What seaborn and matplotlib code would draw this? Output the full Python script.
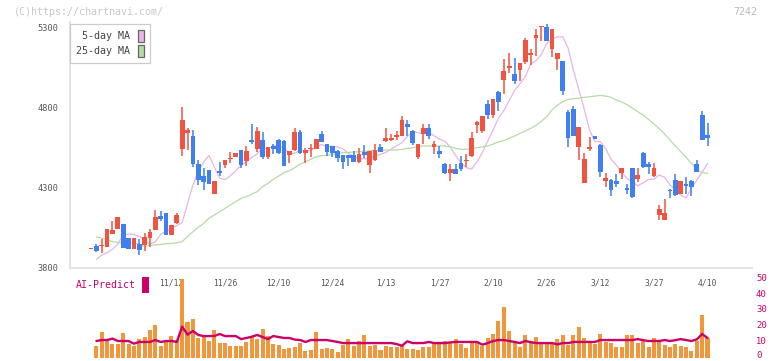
import numpy as np
import pandas as pd
import matplotlib
matplotlib.use("Agg")
import matplotlib.pyplot as plt
from matplotlib.patches import Patch, Rectangle
import seaborn as sns

# daily candles (c0 .. c115)
opens = [3915, 3936, 3934, 3932, 4011, 4042, 4073, 3986, 3919, 3948,
         3944, 3986, 4036, 4123, 4142, 4004, 4079, 4542, 4642, 4623,
         4448, 4373, 4411, 4261, 4404, 4442, 4477, 4492, 4536, 4467,
         4598, 4542, 4598, 4492, 4561, 4598, 4592, 4504, 4536, 4648,
         4517, 4540, 4542, 4636, 4573, 4561, 4529, 4504, 4504, 4504,
         4461, 4523, 4442, 4473, 4554, 4592, 4598, 4617, 4623, 4698,
         4654, 4492, 4636, 4673, 4554, 4529, 4448, 4392, 4417, 4454,
         4467, 4498, 4692, 4654, 4823, 4754, 4898, 4973, 5048, 5011,
         5036, 5086, 5129, 5236, 5304, 5304, 5167, 5104, 5092, 4773,
         4792, 4554, 4329, 4542, 4623, 4567, 4342, 4348, 4342, 4392,
         4292, 4423, 4354, 4517, 4448, 4373, 4129, 4098, 4286, 4348,
         4261, 4323, 4342, 4448, 4754, 4629]
highs = [3915, 3948, 3979, 4042, 4092, 4117, 4073, 3986, 3986, 3979,
         4017, 4042, 4161, 4154, 4142, 4067, 4142, 4805, 4673, 4661,
         4473, 4423, 4411, 4342, 4461, 4473, 4523, 4517, 4536, 4561,
         4698, 4679, 4648, 4554, 4573, 4604, 4598, 4529, 4673, 4661,
         4548, 4573, 4604, 4654, 4573, 4561, 4536, 4504, 4504, 4529,
         4548, 4567, 4529, 4573, 4573, 4673, 4636, 4654, 4748, 4723,
         4661, 4573, 4698, 4698, 4592, 4561, 4454, 4448, 4448, 4498,
         4511, 4648, 4717, 4748, 4848, 4854, 4904, 5104, 5142, 5111,
         5079, 5236, 5167, 5292, 5311, 5323, 5292, 5142, 5092, 4786,
         4811, 4679, 4517, 4617, 4623, 4573, 4392, 4354, 4386, 4423,
         4323, 4423, 4423, 4523, 4461, 4454, 4192, 4229, 4292, 4386,
         4342, 4367, 4348, 4473, 4779, 4704]
lows = [3915, 3898, 3894, 3927, 4011, 4040, 3925, 3919, 3919, 3882,
        3907, 3932, 4036, 4092, 4004, 4004, 4073, 4498, 4536, 4429,
        4317, 4286, 4323, 4261, 4373, 4423, 4454, 4492, 4423, 4436,
        4573, 4523, 4479, 4479, 4511, 4511, 4436, 4454, 4529, 4511,
        4454, 4492, 4542, 4586, 4498, 4492, 4461, 4417, 4436, 4461,
        4454, 4486, 4392, 4467, 4523, 4586, 4592, 4598, 4623, 4623,
        4567, 4479, 4573, 4604, 4511, 4486, 4386, 4342, 4386, 4404,
        4429, 4492, 4642, 4642, 4729, 4736, 4779, 4886, 5017, 4948,
        4967, 5073, 5067, 5123, 5217, 5217, 5117, 5036, 4879, 4554,
        4623, 4473, 4329, 4529, 4604, 4367, 4304, 4248, 4304, 4354,
        4261, 4236, 4336, 4423, 4386, 4367, 4098, 4098, 4236, 4248,
        4261, 4261, 4248, 4398, 4598, 4561]
closes = [3915, 3904, 3938, 4042, 4036, 4117, 3925, 3919, 3986, 3913,
          3992, 4023, 4117, 4104, 4004, 4067, 4129, 4723, 4661, 4448,
          4348, 4336, 4323, 4342, 4392, 4473, 4481, 4517, 4442, 4529,
          4586, 4654, 4492, 4554, 4542, 4517, 4436, 4529, 4648, 4517,
          4536, 4544, 4604, 4586, 4523, 4517, 4486, 4461, 4486, 4461,
          4511, 4504, 4529, 4536, 4523, 4611, 4611, 4629, 4723, 4679,
          4579, 4573, 4673, 4623, 4573, 4511, 4392, 4417, 4386, 4417,
          4475, 4611, 4711, 4748, 4754, 4854, 4836, 5029, 5061, 4967,
          5079, 5223, 5142, 5254, 5309, 5217, 5292, 5142, 4904, 4611,
          4623, 4679, 4479, 4554, 4604, 4398, 4361, 4286, 4323, 4423,
          4288, 4242, 4379, 4429, 4429, 4423, 4167, 4142, 4277, 4254,
          4342, 4311, 4304, 4398, 4598, 4611]

# moving averages as drawn (c1 .. c115)
ma5 = [3852, 3879, 3894, 3915, 3948, 4006, 4010, 4008, 3995, 3970,
       3947, 3962, 4008, 4028, 4045, 4064, 4082, 4200, 4315, 4400,
       4460, 4502, 4430, 4360, 4350, 4375, 4405, 4440, 4462, 4490,
       4512, 4548, 4545, 4562, 4562, 4548, 4510, 4516, 4534, 4529,
       4533, 4555, 4570, 4557, 4559, 4555, 4543, 4515, 4495, 4482,
       4481, 4485, 4498, 4508, 4521, 4541, 4562, 4582, 4619, 4651,
       4644, 4637, 4645, 4625, 4604, 4591, 4554, 4503, 4456, 4425,
       4417, 4461, 4520, 4592, 4660, 4736, 4781, 4844, 4907, 4949,
       4994, 5072, 5094, 5133, 5201, 5229, 5243, 5243, 5173, 5033,
       4914, 4792, 4659, 4589, 4588, 4543, 4479, 4441, 4394, 4358,
       4336, 4312, 4331, 4352, 4353, 4380, 4365, 4318, 4288, 4253,
       4236, 4296, 4348, 4396, 4452]
ma25 = [3992, 3985, 3975, 3963, 3957, 3957, 3957, 3955, 3945, 3932,
        3940, 3942, 3945, 3950, 3952, 3955, 3963, 3994, 4025, 4052,
        4077, 4109, 4129, 4150, 4171, 4192, 4213, 4234, 4244, 4261,
        4275, 4307, 4327, 4352, 4373, 4394, 4406, 4425, 4448, 4463,
        4477, 4494, 4500, 4502, 4506, 4515, 4519, 4521, 4523, 4525,
        4527, 4531, 4534, 4534, 4536, 4536, 4536, 4540, 4546, 4550,
        4556, 4561, 4561, 4561, 4561, 4561, 4556, 4546, 4540, 4540,
        4544, 4550, 4556, 4561, 4573, 4586, 4594, 4609, 4623, 4640,
        4654, 4671, 4690, 4715, 4744, 4786, 4815, 4838, 4852, 4857,
        4859, 4865, 4869, 4873, 4877, 4873, 4865, 4848, 4836, 4819,
        4798, 4775, 4754, 4727, 4698, 4669, 4636, 4598, 4561, 4525,
        4490, 4452, 4415, 4394, 4390]

# lower panel (c1 .. c115)
volume = [7.3, 16.1, 11.1, 8.6, 8.6, 15.5, 8.6, 7.3, 11.7, 13.0,
          17.4, 20.5, 7.3, 9.9, 13.6, 11.1, 49.5, 22.4, 24.3, 12.4,
          13.6, 10.5, 17.4, 9.2, 9.2, 7.3, 7.3, 7.3, 9.9, 13.0,
          11.7, 18.0, 13.6, 8.6, 8.0, 5.5, 6.1, 6.7, 9.2, 4.2,
          4.8, 16.1, 5.5, 6.1, 5.5, 3.6, 8.0, 11.7, 7.3, 10.5,
          14.3, 7.3, 8.0, 4.8, 7.3, 6.7, 6.7, 8.0, 5.5, 5.5,
          4.8, 6.7, 6.7, 9.2, 9.2, 10.5, 9.2, 11.7, 8.6, 6.1,
          9.2, 9.2, 7.3, 12.4, 15.0, 23.0, 32.0, 17.0, 9.0, 7.0,
          14.0, 9.0, 13.0, 9.0, 9.0, 9.0, 12.0, 14.0, 8.0, 14.0,
          19.5, 12.5, 9.5, 8.5, 15.0, 10.0, 9.5, 7.0, 6.5, 14.0,
          14.5, 9.5, 10.5, 7.0, 12.6, 11.0, 7.7, 7.0, 8.8, 7.5,
          6.5, 4.5, 10.5, 27.0, 12.6]
ai_predict = [10.5, 11.1, 11.1, 12.0, 10.5, 10.5, 10.5, 8.8, 9.9, 9.9,
              9.9, 11.1, 9.9, 10.5, 10.5, 9.9, 19.5, 14.5, 16.8, 14.3,
              13.6, 13.6, 13.6, 14.9, 13.6, 13.6, 13.6, 11.7, 12.4, 13.2,
              14.3, 13.0, 11.7, 13.6, 13.0, 12.4, 12.4, 11.4, 11.1, 9.9,
              11.1, 11.1, 11.1, 11.1, 10.5, 9.9, 9.2, 9.2, 9.2, 9.2,
              9.2, 9.2, 9.2, 9.2, 9.2, 9.2, 8.6, 7.5, 10.3, 9.2,
              9.2, 9.2, 9.9, 9.2, 9.2, 9.2, 9.6, 9.9, 9.9, 9.9,
              9.9, 9.9, 8.2, 9.2, 10.5, 11.1, 11.1, 10.5, 9.9, 9.2,
              10.5, 9.8, 9.2, 9.2, 9.2, 9.2, 8.4, 9.2, 9.2, 9.9,
              9.9, 9.9, 9.9, 9.9, 11.1, 11.1, 11.1, 11.1, 11.1, 11.1,
              11.1, 11.7, 11.0, 10.5, 10.5, 10.5, 11.1, 10.5, 11.0, 11.7,
              11.1, 10.5, 11.5, 14.9, 12.4]

date_labels = ["11/12", "11/26", "12/10", "12/24", "1/13", "1/27",
               "2/10", "2/26", "3/12", "3/27", "4/10"]
date_pos = [15, 25, 35, 45, 55, 65, 75, 85, 95, 105, 115]
price_ticks = [3800, 4300, 4800, 5300]
vol_ticks = [0, 10, 20, 30, 40, 50]

UP, DOWN = "#f0533f", "#3f7ff0"
PINK, GREEN = "#e8b4e8", "#b4dca4"
ORANGE, MAG = "#f0963c", "#cc0066"
MONO = ["DejaVu Sans Mono"]

sns.set_style("white")
plt.rcParams["font.family"] = MONO

W, H = 772, 361
fig = plt.figure(figsize=(W / 100, H / 100), dpi=100)


def fx(px):
    return px / W


def fy(py):
    return 1 - py / H


XL = (-3.92, 123.3)
ax = fig.add_axes([fx(70), fy(268), (752 - 70) / W, (268 - 22) / H])
axv = fig.add_axes([fx(70), fy(357.7), (752 - 70) / W, 87.5 / H])

df = pd.DataFrame({"o": opens, "h": highs, "l": lows, "c": closes})
df["i"] = np.arange(len(df))
df["up"] = df.c >= df.o
cols = np.where(df.up, UP, DOWN)

# wicks + bodies
ax.vlines(df.i, df.l, df.h, colors=cols, linewidth=1.1, zorder=3)
body_lo = np.minimum(df.o, df.c)
body_h = np.maximum(np.abs(df.c - df.o), 8)
ax.bar(df.i, body_h, bottom=body_lo, width=0.88, color=cols, linewidth=0, zorder=4)

xs = np.arange(1, len(df))
sns.lineplot(x=xs, y=ma5, ax=ax, color=PINK, linewidth=0.9, errorbar=None, zorder=2)
sns.lineplot(x=xs, y=ma25, ax=ax, color=GREEN, linewidth=0.9, errorbar=None, zorder=2)

ax.set_xlim(*XL)
ax.set_ylim(3798, 5336)
ax.set_yticks(price_ticks)
ax.set_yticklabels([str(t) for t in price_ticks], fontsize=6.2, color="#555555")
ax.set_xticks(np.linspace(XL[0], XL[1], 12))
ax.set_xticklabels([])
ax.tick_params(axis="y", direction="out", length=4.5, width=0.8, color="#cccccc", pad=3.5)
ax.tick_params(axis="x", direction="inout", length=6, width=1.2, color="#e0e0e0")
for s in ["top", "right"]:
    ax.spines[s].set_visible(False)
for s in ["left", "bottom"]:
    ax.spines[s].set_color("#e0e0e0")
    ax.spines[s].set_linewidth(1.3)
ax.set_xlabel("")
ax.set_ylabel("")

handles = [Patch(facecolor=PINK, edgecolor="#666666", linewidth=0.9, label="5-day MA"),
           Patch(facecolor=GREEN, edgecolor="#666666", linewidth=0.9, label="25-day MA")]
leg = ax.legend(handles=handles, loc="upper left", bbox_to_anchor=(fx(70), fy(24)),
                bbox_transform=fig.transFigure, borderaxespad=0, markerfirst=False,
                fontsize=7.2, handlelength=0.6, handleheight=1.5, handletextpad=0.8,
                labelspacing=0.25, borderpad=0.6, fancybox=False, framealpha=1,
                edgecolor="#cccccc", labelcolor="#444444")
leg.get_frame().set_linewidth(0.9)
leg.set_zorder(10)

# volume panel
axv.bar(xs, volume, width=0.75, color=ORANGE, linewidth=0, zorder=2)
sns.lineplot(x=xs, y=ai_predict, ax=axv, color=MAG, linewidth=1.7, errorbar=None, zorder=3)
for lab, p in zip(date_labels, date_pos):
    axv.text(p, 47, lab, ha="center", va="center", fontsize=5.8, color="#555555", zorder=1)
axv.set_xlim(*XL)
axv.set_ylim(0, 55)
axv.set_yticks([])
axv.set_xticks([])
# right-hand scale, the bottom label nudged up so it stays inside the image
ytr = axv.get_yaxis_transform()
for v in vol_ticks:
    axv.text(1 + 4 / 682, v if v > 0 else 1.2, str(v), transform=ytr, ha="left", va="center",
             fontsize=6.4, color=MAG)
axv.patch.set_visible(False)
for s in axv.spines.values():
    s.set_visible(False)
axv.set_xlabel("")
axv.set_ylabel("")

fig.text(fx(14), fy(12), "(C)https://chartnavi.com/", fontsize=7.2, color="#c8c8c8", va="center", ha="left")
fig.text(fx(757), fy(12), "7242", fontsize=7.2, color="#bbbbbb", va="center", ha="right")
fig.text(fx(75.5), fy(285.5), "AI-Predict", fontsize=7.1, color=MAG, va="center", ha="left")
fig.add_artist(Rectangle((fx(142), fy(293)), 7 / W, 16 / H, transform=fig.transFigure,
                         facecolor=MAG, edgecolor="none"))

fig.savefig("out.png", dpi=100)
